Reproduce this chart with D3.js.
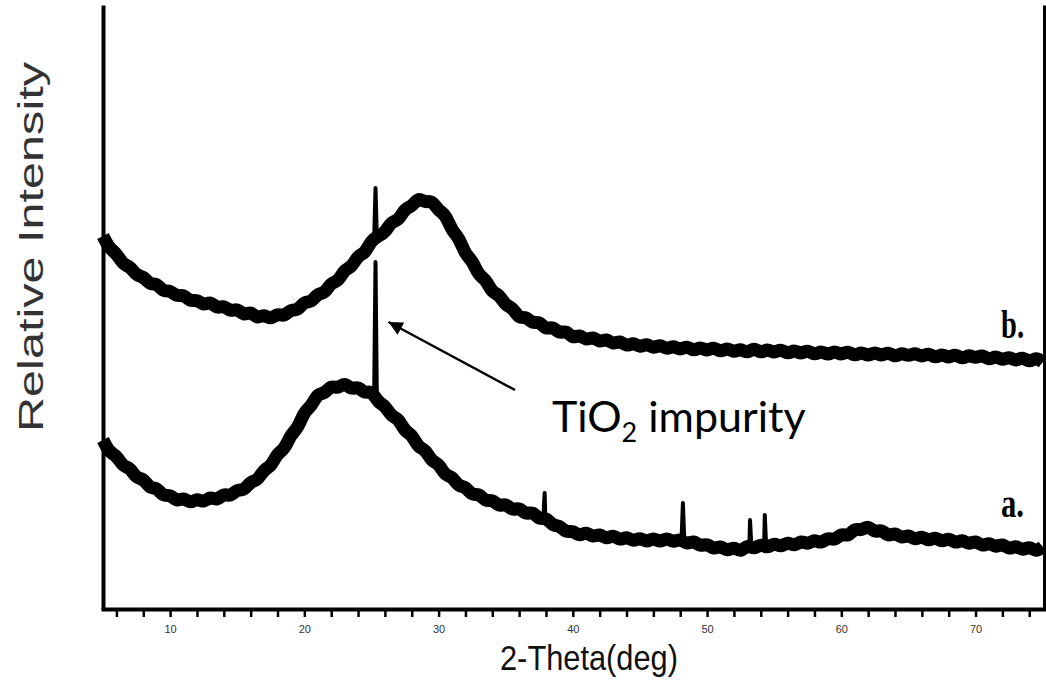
<!DOCTYPE html>
<html>
<head>
<meta charset="utf-8">
<script src="https://cdn.jsdelivr.net/npm/d3@7"></script>
<style>
  html, body { margin: 0; background: #fff; }
  svg { display: block; }
</style>
</head>
<body>
<svg></svg>
<script>
// scan grid: 5.0 .. 75.0 deg, 0.5 deg step (141 points per pattern)
const angles = d3.range(5, 75.01, 0.5);

// pattern a. (lower), counts in arbitrary units, one row = 5 deg
const valuesA = [
  169,156,154,142,142,130,131,120,122,112,
  115,107,112,105,111,106,113,108,116,112,
  120,118,128,128,140,142,156,159,175,180,
  198,202,216,215,224,220,227,219,223,215,
  219,206,204,192,191,177,175,161,160,147,
  146,133,133,122,123,113,116,107,110,102,
  106,98,102,94,98,89,92,83,84,76,
  79,72,78,71,76,69,75,68,73,67,
  72,66,72,66,72,66,71,64,69,62,
  66,59,64,57,63,56,65,59,66,60,
  67,61,68,62,69,64,70,65,72,68,
  76,72,81,78,84,76,80,72,77,70,
  75,68,74,67,73,66,72,65,70,64,
  69,62,67,61,66,59,64,58,63,57,
  62
];
// sharp reflections in pattern a. (TiO2 at 25.3 deg and small ones), [left, top, right]
const spikeAnglesA = [25.2, 25.3, 25.4, 37.8, 37.9, 37.95, 48.1, 48.2, 48.3, 53.15, 53.2, 53.3, 54.25, 54.3, 54.4];
const spikeValuesA = [214, 347, 211, 90, 116, 91, 70, 106, 70, 62, 89, 62, 64, 94, 63];

// pattern b. (upper)
const valuesB = [
  373,360,356,344,343,333,333,324,326,317,
  319,312,315,307,310,303,308,300,304,297,
  301,293,298,290,295,289,296,292,300,298,
  308,306,316,315,327,327,340,341,354,355,
  369,373,376,388,388,401,402,412,406,409,
  398,395,378,372,354,349,333,330,316,315,
  303,302,290,293,285,288,279,283,275,279,
  270,275,268,273,266,271,264,269,262,267,
  261,266,260,265,259,264,258,264,257,263,
  257,263,256,262,256,261,255,262,255,261,
  255,261,254,260,254,260,253,259,253,259,
  253,259,252,258,252,258,252,258,251,257,
  252,257,251,257,250,256,250,256,249,255,
  250,255,248,254,248,253,247,253,246,252,
  247
];
const spikeAnglesB = [25.2, 25.3, 25.4];
const spikeValuesB = [370, 421, 372];

const majorTicks = [10, 20, 30, 40, 50, 60, 70];
const minorTicks = d3.range(6, 75, 2);

const WIDTH = 1046;
const HEIGHT = 691;

const x = d3.scaleLinear().domain([5, 75.1]).range([103, 1044]);
const y = d3.scaleLinear().domain([0, 604]).range([609, 5]);

const svg = d3.select('svg')
  .attr('width', WIDTH)
  .attr('height', HEIGHT)
  .style('font-family', '"Liberation Sans", Arial, sans-serif');

const line = d3.line()
  .x(d => x(d.t))
  .y(d => y(d.v));

// broad amorphous band of each pattern (noisy trace drawn as a thick band)
const curves = svg.append('g');
[valuesA, valuesB].forEach(values => {
  const pts = angles.map((t, i) => ({ t: t, v: values[i] }));
  curves.append('path')
    .datum(pts)
    .attr('d', line.curve(d3.curveBasis))
    .attr('fill', 'none')
    .attr('stroke', '#000')
    .attr('stroke-width', 13)
    .attr('stroke-linejoin', 'round');
  curves.append('path')
    .datum(pts)
    .attr('d', line.curve(d3.curveLinear))
    .attr('fill', 'none')
    .attr('stroke', '#000')
    .attr('stroke-width', 5)
    .attr('stroke-linejoin', 'miter');
});

// narrow reflections, drawn in groups of three points
function spikes(spAngles, spValues) {
  const groups = [];
  for (let i = 0; i < spAngles.length; i += 3) {
    groups.push([0, 1, 2].map(k => ({ t: spAngles[i + k], v: spValues[i + k] })));
  }
  return groups;
}
curves.selectAll('.spike')
  .data(spikes(spikeAnglesA, spikeValuesA).concat(spikes(spikeAnglesB, spikeValuesB)))
  .enter()
  .append('path')
  .classed('spike', true)
  .attr('d', line.curve(d3.curveLinear))
  .attr('fill', 'none')
  .attr('stroke', '#000')
  .attr('stroke-width', 4)
  .attr('stroke-linejoin', 'round');

// axes
const xAxis = svg.append('g')
  .attr('transform', `translate(0, ${y(0)})`)
  .call(d3.axisBottom(x)
    .tickValues(minorTicks)
    .tickSize(8)
    .tickSizeOuter(0)
    .tickPadding(8)
    .tickFormat(d => majorTicks.includes(d) ? d : ''));
xAxis.select('.domain').attr('stroke-width', 4).attr('stroke-linecap', 'square');
xAxis.selectAll('.tick line').attr('stroke-width', 2.5);
xAxis.selectAll('.tick text')
  .attr('font-size', 11)
  .attr('fill', '#333')
  .attr('font-family', '"Liberation Sans Narrow", "Liberation Sans", sans-serif');

const yAxis = svg.append('g')
  .attr('transform', `translate(${x.range()[0]}, 0)`)
  .call(d3.axisLeft(y).tickValues([]).tickSizeOuter(0));
yAxis.select('.domain').attr('stroke-width', 4);

const rightAxis = svg.append('g')
  .attr('transform', `translate(${x.range()[1]}, 0)`)
  .call(d3.axisRight(y).tickValues([]).tickSizeOuter(0));
rightAxis.select('.domain').attr('stroke-width', 3);

// axis titles
svg.append('text')
  .attr('x', 589)
  .attr('y', 670)
  .attr('text-anchor', 'middle')
  .attr('font-size', 35)
  .attr('textLength', 178)
  .attr('lengthAdjust', 'spacingAndGlyphs')
  .attr('fill', '#111')
  .text('2-Theta(deg)');

svg.append('text')
  .attr('transform', 'translate(43, 247) rotate(-90)')
  .attr('text-anchor', 'middle')
  .attr('font-size', 35)
  .attr('textLength', 370)
  .attr('lengthAdjust', 'spacingAndGlyphs')
  .attr('fill', '#333')
  .text('Relative Intensity');

// pattern labels
const patternLabels = [
  { name: 'a.', t: 71.9, v: 92 },
  { name: 'b.', t: 71.9, v: 271 }
];
svg.selectAll('.plabel')
  .data(patternLabels)
  .enter()
  .append('text')
  .classed('plabel', true)
  .attr('x', d => x(d.t))
  .attr('y', d => y(d.v))
  .attr('font-family', '"Liberation Serif", "Times New Roman", serif')
  .attr('font-weight', 'bold')
  .attr('font-size', 40)
  .attr('textLength', 23)
  .attr('lengthAdjust', 'spacingAndGlyphs')
  .text(d => d.name);

// annotation
svg.append('defs').append('marker')
  .attr('id', 'head')
  .attr('viewBox', '0 0 10 10')
  .attr('refX', 10)
  .attr('refY', 5)
  .attr('markerWidth', 18)
  .attr('markerHeight', 14)
  .attr('markerUnits', 'userSpaceOnUse')
  .attr('orient', 'auto')
  .append('path')
  .attr('d', 'M0,0L10,5L0,10Z')
  .attr('fill', '#000');

svg.append('line')
  .attr('x1', 515)
  .attr('y1', 390)
  .attr('x2', x(25.3) + 13)
  .attr('y2', y(287))
  .attr('stroke', '#000')
  .attr('stroke-width', 2.4)
  .attr('marker-end', 'url(#head)');

const note = svg.append('text')
  .attr('x', 552)
  .attr('y', 432)
  .attr('font-family', 'Lato, "Open Sans", sans-serif')
  .attr('font-size', 43)
  .attr('fill', '#000');
note.append('tspan').text('TiO');
note.append('tspan').attr('font-size', 27).attr('dy', 10).text('2');
note.append('tspan').attr('dy', -10).text(' impurity');
</script>
</body>
</html>
